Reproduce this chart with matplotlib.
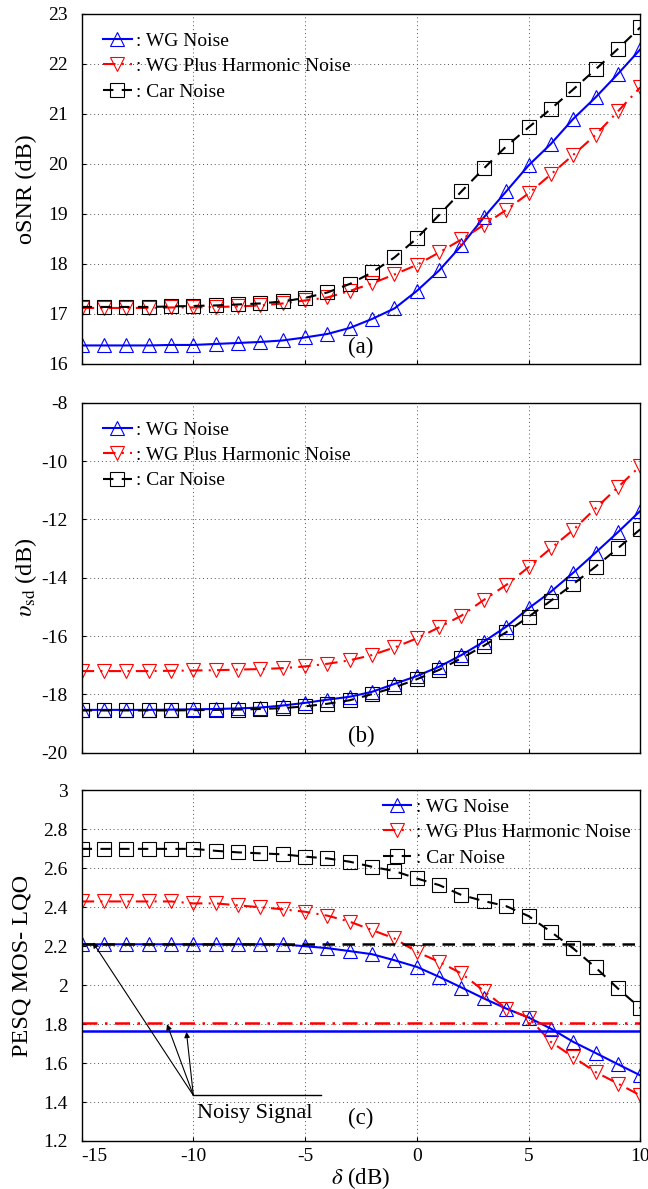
import matplotlib.pyplot as plt

plt.rcParams['font.family'] = ['Liberation Serif', 'DejaVu Serif']
plt.rcParams['mathtext.fontset'] = 'stix'
plt.rcParams['axes.unicode_minus'] = False

delta = list(range(-15, 11))

# (a) oSNR (dB)
osnr_wg = [16.37, 16.37, 16.37, 16.37, 16.38, 16.38, 16.40, 16.42, 16.44, 16.47, 16.53,
           16.60, 16.72, 16.90, 17.11, 17.46, 17.87, 18.37, 18.93, 19.45, 19.97, 20.40,
           20.90, 21.33, 21.80, 22.29]
osnr_wgh = [17.12, 17.12, 17.12, 17.12, 17.13, 17.13, 17.14, 17.15, 17.17, 17.21, 17.27,
            17.33, 17.46, 17.61, 17.79, 17.98, 18.23, 18.49, 18.78, 19.08, 19.41, 19.79,
            20.18, 20.58, 21.05, 21.53]
osnr_car = [17.14, 17.14, 17.14, 17.14, 17.15, 17.16, 17.17, 17.19, 17.21, 17.25, 17.32,
            17.43, 17.60, 17.83, 18.13, 18.51, 18.98, 19.45, 19.91, 20.35, 20.73, 21.10,
            21.49, 21.89, 22.30, 22.73]

# (b) upsilon_sd (dB)
vsd_wg = [-18.53, -18.53, -18.53, -18.53, -18.52, -18.51, -18.50, -18.48, -18.45, -18.38,
          -18.29, -18.18, -18.08, -17.91, -17.64, -17.37, -17.05, -16.65, -16.19, -15.68,
          -15.05, -14.48, -13.83, -13.14, -12.44, -11.71]
vsd_wgh = [-17.20, -17.20, -17.20, -17.20, -17.19, -17.18, -17.17, -17.15, -17.13, -17.10,
           -17.04, -16.95, -16.83, -16.65, -16.39, -16.08, -15.70, -15.30, -14.76, -14.25,
           -13.64, -12.99, -12.36, -11.62, -10.90, -10.17]
vsd_car = [-18.55, -18.55, -18.55, -18.55, -18.55, -18.54, -18.53, -18.52, -18.50, -18.47,
           -18.41, -18.32, -18.20, -17.99, -17.76, -17.48, -17.16, -16.76, -16.33, -15.87,
           -15.34, -14.79, -14.22, -13.62, -12.99, -12.34]

# (c) PESQ MOS-LQO
pesq_wg = [2.21, 2.21, 2.21, 2.21, 2.21, 2.21, 2.21, 2.21, 2.21, 2.21, 2.20, 2.19, 2.175,
           2.159, 2.128, 2.094, 2.043, 1.988, 1.932, 1.88, 1.834, 1.777, 1.709, 1.652,
           1.594, 1.537]
pesq_wgh = [2.43, 2.43, 2.43, 2.43, 2.43, 2.42, 2.42, 2.41, 2.40, 2.39, 2.377, 2.357,
            2.326, 2.283, 2.24, 2.171, 2.12, 2.06, 1.971, 1.88, 1.834, 1.709, 1.631,
            1.554, 1.495, 1.434]
pesq_car = [2.70, 2.70, 2.70, 2.70, 2.70, 2.70, 2.69, 2.682, 2.677, 2.672, 2.66, 2.651,
            2.634, 2.608, 2.586, 2.548, 2.514, 2.463, 2.432, 2.406, 2.355, 2.274, 2.189,
            2.091, 1.983, 1.883]
noisy_wg = 1.765
noisy_wgh = 1.805
noisy_car = 2.21

labels = [': WG Noise', ': WG Plus Harmonic Noise', ': Car Noise']

fig = plt.figure(figsize=(6.48, 11.89), dpi=100)
ax_a = fig.add_axes([0.126, 0.6939, 0.862, 0.2944])
ax_b = fig.add_axes([0.126, 0.3669, 0.862, 0.2944])
ax_c = fig.add_axes([0.126, 0.0404, 0.862, 0.2948])

mk = dict(markersize=9.5, fillstyle='none', markeredgewidth=0.8)
leg_kw = dict(frameon=False, fontsize=14, handlelength=1.45, handletextpad=0.25,
              labelspacing=0.4, borderaxespad=0)


def draw_series(ax, wg, wgh, car):
    ax.plot(delta, wg, color='#0000ff', ls='-', lw=1.5, marker='^', **mk, label=labels[0])
    ax.plot(delta, wgh, color='#ff0000', ls=(0, (6, 3, 1, 3)), lw=1.5, marker='v', **mk,
            label=labels[1])
    ax.plot(delta, car, color='black', ls=(0, (5, 4)), lw=1.5, marker='s', **mk,
            label=labels[2])


def style(ax):
    ax.set_xlim(-15, 10)
    ax.set_xticks([-15, -10, -5, 0, 5, 10])
    ax.grid(True, ls=(0, (1, 3)), color='#555555', lw=0.7)
    ax.tick_params(direction='in', labelsize=14, length=3)
    ax.tick_params(axis='y', pad=10)
    ax.tick_params(axis='x', pad=5)
    for s in ax.spines.values():
        s.set_linewidth(1.0)


draw_series(ax_a, osnr_wg, osnr_wgh, osnr_car)
style(ax_a)
ax_a.set_ylim(16, 23)
ax_a.set_yticks(range(16, 24))
ax_a.set_xticklabels([])
ax_a.set_ylabel('oSNR (dB)', fontsize=17.5, labelpad=8)
ax_a.text(-2.5, 16.32, '(a)', fontsize=16.5, ha='center', va='center')
ax_a.legend(loc='upper left', bbox_to_anchor=(0.025, 0.97), **leg_kw)

draw_series(ax_b, vsd_wg, vsd_wgh, vsd_car)
style(ax_b)
ax_b.set_ylim(-20, -8)
ax_b.set_yticks(range(-20, -7, 2))
ax_b.set_xticklabels([])
ax_b.set_ylabel(r'$\upsilon_{\rm sd}$ (dB)', fontsize=17.5, labelpad=2)
ax_b.text(-2.5, -19.45, '(b)', fontsize=16.5, ha='center', va='center')
ax_b.legend(loc='upper left', bbox_to_anchor=(0.025, 0.97), **leg_kw)

draw_series(ax_c, pesq_wg, pesq_wgh, pesq_car)
ax_c.axhline(noisy_car, color='black', ls=(0, (5, 3)), lw=1.8)
ax_c.axhline(noisy_wgh, color='#ff0000', ls=(0, (6, 3, 1, 3)), lw=1.8)
ax_c.axhline(noisy_wg, color='#0000ff', ls='-', lw=1.8)
style(ax_c)
ax_c.set_ylim(1.2, 3.0)
ax_c.set_yticks([1.2, 1.4, 1.6, 1.8, 2.0, 2.2, 2.4, 2.6, 2.8, 3.0])
ax_c.set_yticklabels(['1.2', '1.4', '1.6', '1.8', '2', '2.2', '2.4', '2.6', '2.8', '3'])
ax_c.set_xticklabels(['-15', '-10', '-5', '0', '5', '10'])
ax_c.get_xticklabels()[0].set_ha('left')
ax_c.set_ylabel('PESQ MOS- LQO', fontsize=17.5, labelpad=8)
ax_c.set_xlabel(r'$\delta$ (dB)', fontsize=16.5, labelpad=0)
ax_c.text(-2.5, 1.316, '(c)', fontsize=16.5, ha='center', va='center')
ax_c.legend(loc='upper left', bbox_to_anchor=(0.525, 1.0), **leg_kw)

# "Noisy Signal" annotation
ax_c.plot([-10, -4.3], [1.434, 1.434], color='black', lw=1.0)
for tip in [(-14.5, 2.22), (-11.18, 1.80), (-10.31, 1.76)]:
    ax_c.annotate('', xy=tip, xytext=(-10, 1.434),
                  arrowprops=dict(arrowstyle='-|>', color='black', lw=0.8,
                                  mutation_scale=8, shrinkA=0, shrinkB=0))
ax_c.text(-9.85, 1.34, 'Noisy Signal', fontsize=16, ha='left', va='center')

fig.savefig('out.png', dpi=100)
